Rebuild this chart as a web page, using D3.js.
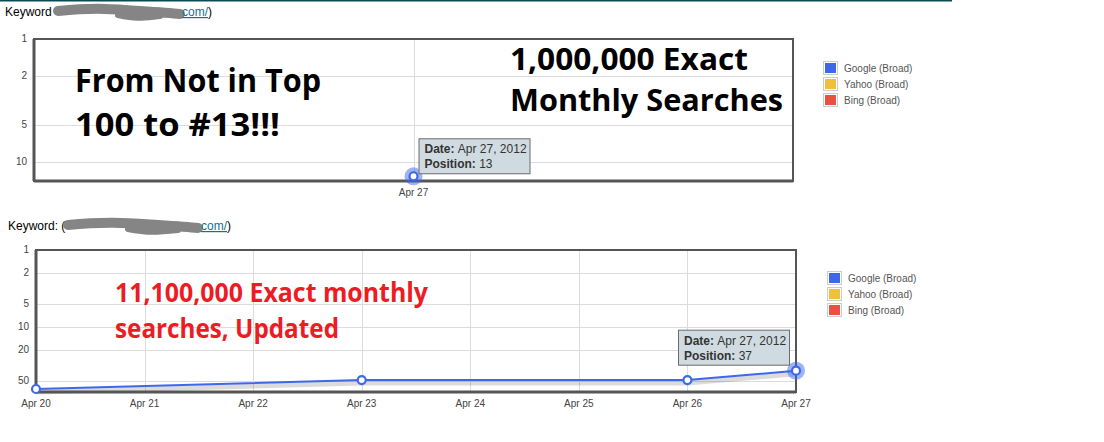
<!DOCTYPE html>
<html>
<head>
<meta charset="utf-8">
<script src="https://cdn.jsdelivr.net/npm/d3@7"></script>
<style>
  body { margin: 0; background: #fff; }
  svg { display: block; font-family: "Liberation Sans", Arial, sans-serif; }
</style>
</head>
<body>
<svg id="page" width="1104" height="442"></svg>
<script>
// data
const topDates = ["2012-04-27"];
const topPositions = [13];
const topYTicks = [1, 2, 5, 10];

const bottomDates = ["2012-04-20", "2012-04-23", "2012-04-26", "2012-04-27"];
const bottomPositions = [64, 49, 49, 37];
const bottomYTicks = [1, 2, 5, 10, 20, 50];

const legendNames = ["Google (Broad)", "Yahoo (Broad)", "Bing (Broad)"];
const legendColors = ["#3e68ea", "#efc03c", "#e9503f"];

const parse = d3.timeParse("%Y-%m-%d");
const fmtTick = d3.timeFormat("%b %-d");
const fmtTip = d3.timeFormat("%b %-d, %Y");

const svg = d3.select('#page');

// dark rule across the top of the page
svg.append('line')
    .attr('x1', 0).attr('x2', 952).attr('y1', 0.5).attr('y2', 0.5)
    .attr('stroke', '#0b4a55').attr('stroke-width', 2);

const blue = "#3e68ea";

// keyword header with the redacted url
const keyword = (g, label, x, y, blobFrom, blobTo, linkX) => {
    g.append('text').attr('x', x).attr('y', y)
        .attr('font-size', 12).attr('fill', '#000').text(label);
    g.append('path')
        .attr('d', `M${blobFrom},${y - 5} C${blobFrom + 40},${y - 9} ${blobTo - 70},${y - 7} ${blobTo - 40},${y - 5} S${blobTo - 10},${y - 3} ${blobTo},${y - 2}`)
        .attr('stroke', '#858585').attr('stroke-width', 10)
        .attr('stroke-linecap', 'round').attr('fill', 'none');
    g.append('path')
        .attr('d', `M${blobFrom + 60},${y - 1} C${blobFrom + 80},${y + 3} ${blobTo - 40},${y + 2} ${blobTo - 20},${y}`)
        .attr('stroke', '#858585').attr('stroke-width', 6)
        .attr('stroke-linecap', 'round').attr('fill', 'none');
    const t = g.append('text').attr('x', linkX).attr('y', y).attr('font-size', 12);
    t.append('tspan').attr('fill', '#1a6f8a').attr('text-decoration', 'underline').text('com/');
    t.append('tspan').attr('fill', '#000').text(')');
};

const drawChart = (opts) => {
    const {left, top, width, height, dates, values, yTicks, yMax, xDomain, xTicks, tipOffset, legendX, legendY} = opts;
    const g = svg.append('g');

    const x = d3.scaleTime().domain(xDomain).range([left, left + width]);
    const y = d3.scaleLog().domain([1, yMax]).range([top, top + height]);

    // horizontal grid
    g.append('g').selectAll('line').data(yTicks.filter(d => d > 1)).join('line')
        .attr('x1', left).attr('x2', left + width)
        .attr('y1', d => Math.round(y(d)) + 0.5).attr('y2', d => Math.round(y(d)) + 0.5)
        .attr('stroke', '#dcdcdc');
    // vertical grid
    g.append('g').selectAll('line').data(xTicks).join('line')
        .attr('x1', d => Math.round(x(d)) + 0.5).attr('x2', d => Math.round(x(d)) + 0.5)
        .attr('y1', top).attr('y2', top + height)
        .attr('stroke', '#dcdcdc');

    // y labels
    g.append('g').selectAll('text').data(yTicks).join('text')
        .attr('x', left - 7).attr('y', d => y(d) + 3)
        .attr('text-anchor', 'end').attr('font-size', 10).attr('fill', '#444')
        .text(d => d);
    // x labels
    g.append('g').selectAll('text').data(xTicks).join('text')
        .attr('x', d => x(d)).attr('y', top + height + 15)
        .attr('text-anchor', 'middle').attr('font-size', 10).attr('fill', '#444')
        .text(d => fmtTick(d));

    const pts = dates.map((d, i) => ({date: parse(d), value: values[i]}));
    const line = d3.line().x(d => x(d.date)).y(d => y(d.value));

    // soft shadow under the series
    g.append('path').datum(pts).attr('d', line)
        .attr('transform', 'translate(0,3)')
        .attr('fill', 'none').attr('stroke', '#000').attr('stroke-opacity', 0.14).attr('stroke-width', 5);
    g.append('path').datum(pts).attr('d', line)
        .attr('fill', 'none').attr('stroke', blue).attr('stroke-width', 2);

    // frame
    g.append('rect').attr('x', left).attr('y', top).attr('width', width).attr('height', height)
        .attr('fill', 'none').attr('stroke', '#555').attr('stroke-width', 2);
    g.append('line').attr('x1', left).attr('x2', left + width)
        .attr('y1', top + height).attr('y2', top + height)
        .attr('stroke', '#555').attr('stroke-width', 3);
    g.append('line').attr('x1', left).attr('x2', left)
        .attr('y1', top).attr('y2', top + height)
        .attr('stroke', '#555').attr('stroke-width', 3);

    // highlighted last point
    const last = pts[pts.length - 1];
    g.append('circle').attr('cx', x(last.date)).attr('cy', y(last.value)).attr('r', 9)
        .attr('fill', blue).attr('fill-opacity', 0.5);

    g.append('g').selectAll('circle').data(pts).join('circle')
        .attr('cx', d => x(d.date)).attr('cy', d => y(d.value)).attr('r', 4)
        .attr('fill', '#fff').attr('stroke', blue).attr('stroke-width', 2.2);

    // tooltip
    const tx = x(last.date) + tipOffset[0], ty = y(last.value) + tipOffset[1];
    g.append('rect').attr('x', tx + 0.5).attr('y', ty + 0.5).attr('width', 111).attr('height', 35)
        .attr('fill', '#cfdbe1').attr('stroke', '#6b6b6b');
    const t1 = g.append('text').attr('x', tx + 6).attr('y', ty + 15).attr('font-size', 12).attr('fill', '#333');
    t1.append('tspan').attr('font-weight', 'bold').text('Date: ');
    t1.append('tspan').text(fmtTip(last.date));
    const t2 = g.append('text').attr('x', tx + 6).attr('y', ty + 30).attr('font-size', 12).attr('fill', '#333');
    t2.append('tspan').attr('font-weight', 'bold').text('Position: ');
    t2.append('tspan').text(last.value);

    // legend
    const lg = g.append('g').selectAll('g').data(legendNames).join('g')
        .attr('transform', (d, i) => `translate(${legendX},${legendY + i * 16})`);
    lg.append('rect').attr('x', 0.5).attr('y', 0.5).attr('width', 14).attr('height', 13)
        .attr('fill', '#fff').attr('stroke', '#ccc');
    lg.append('rect').attr('x', 2).attr('y', 2).attr('width', 11).attr('height', 10)
        .attr('fill', (d, i) => legendColors[i]);
    lg.append('text').attr('x', 21).attr('y', 11).attr('font-size', 10).attr('fill', '#555')
        .text(d => d);
    return g;
};

// annotation text helper
const note = (lines, x, y0, lh, size, color, widths) => {
    lines.forEach((s, i) => {
        svg.append('text').attr('x', x).attr('y', y0 + i * lh)
            .attr('font-family', '"Open Sans", "Noto Sans", sans-serif')
            .attr('font-weight', 'bold').attr('font-size', size).attr('fill', color)
            .attr('textLength', widths[i]).attr('lengthAdjust', 'spacingAndGlyphs')
            .text(s);
    });
};

// top chart
keyword(svg, 'Keyword', 5, 16, 58, 180, 182);
drawChart({
    left: 34, top: 39, width: 759, height: 142,
    dates: topDates, values: topPositions, yTicks: topYTicks, yMax: 14.2,
    xDomain: [parse("2012-04-26"), parse("2012-04-28")],
    xTicks: topDates.map(parse),
    tipOffset: [5, -38], legendX: 823, legendY: 61
});
note(["From Not in Top", "100 to #13!!!"], 75, 92, 44, 32, '#000', [246, 205]);
note(["1,000,000 Exact", "Monthly Searches"], 510, 70, 41, 30, '#000', [238, 273]);

// bottom chart
keyword(svg, 'Keyword: (', 8, 230, 68, 198, 201);
drawChart({
    left: 36, top: 250, width: 760, height: 142,
    dates: bottomDates, values: bottomPositions, yTicks: bottomYTicks, yMax: 70,
    xDomain: [parse("2012-04-20"), parse("2012-04-27")],
    xTicks: d3.timeDay.range(parse("2012-04-20"), parse("2012-04-28")),
    tipOffset: [-118, -41], legendX: 827, legendY: 271
});
note(["11,100,000 Exact monthly", "searches, Updated"], 115, 302, 36, 26, '#ec1c24', [313, 224]);
</script>
</body>
</html>
